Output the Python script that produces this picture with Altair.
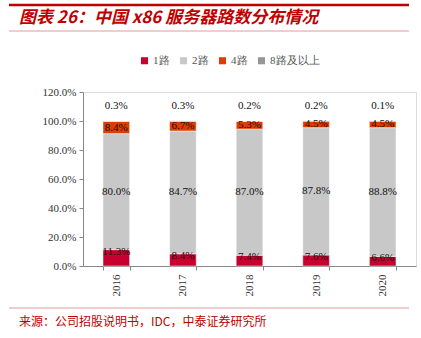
import altair as alt
import pandas as pd

years = ["2016", "2017", "2018", "2019", "2020"]
series = ["1路", "2路", "4路", "8路及以上"]
v1 = [11.3, 8.4, 7.4, 7.6, 6.6]
v2 = [80.0, 84.7, 87.0, 87.8, 88.8]
v4 = [8.4, 6.7, 5.3, 4.5, 4.5]
v8 = [0.3, 0.3, 0.2, 0.2, 0.1]
colors = ["#C8002F", "#C8C8C8", "#DE3C00", "#969696"]
title_text = "图表 26：中国 x86 服务器路数分布情况"
source_text = "来源：公司招股说明书，IDC，中泰证券研究所"

rows = []
for i, y in enumerate(years):
    for s, vals in zip(series, [v1, v2, v4, v8]):
        rows.append({"year": y, "series": s, "value": vals[i], "order": series.index(s)})
df = pd.DataFrame(rows)
df["label"] = df["value"].map(lambda v: f"{v:.1f}%")

SERIF = "Liberation Serif"

base = alt.Chart(df).transform_stack(
    stack="value", groupby=["year"], as_=["y0", "y1"], sort=[alt.SortField("order")]
).transform_calculate(
    mid="(datum.y0 + datum.y1) / 2"
)

yscale = alt.Scale(domain=[0, 120])
xscale = alt.Scale(paddingInner=0.6, paddingOuter=0.3)
xaxis = alt.Axis(labelAngle=-90, labelFont=SERIF, labelFontSize=11,
                 labelColor="#333333", domainColor="#888888", tickColor="#888888",
                 ticks=True, tickBand="extent", tickSize=4, labelPadding=4,
                 title=None)
yaxis = alt.Axis(values=[0, 20, 40, 60, 80, 100, 120],
                 labelExpr="format(datum.value, '.1f') + '%'",
                 labelOverlap=False, labelFlush=False,
                 grid=False, labelFont=SERIF, labelFontSize=11,
                 labelColor="#333333", domainColor="#888888",
                 tickColor="#888888", tickSize=4, labelPadding=3, title=None)

xenc = alt.X("year:N", sort=years, title=None, scale=xscale, axis=xaxis)

def yenc(field):
    return alt.Y(field, title=None, scale=yscale, axis=yaxis)

bars = base.mark_bar(stroke="white", strokeWidth=0.5).encode(
    x=xenc,
    y=yenc("y0:Q"),
    y2="y1:Q",
    color=alt.Color("series:N", sort=series,
                    scale=alt.Scale(domain=series, range=colors),
                    legend=alt.Legend(title=None, orient="none", direction="horizontal",
                                      legendX=56, legendY=-37, symbolType="square",
                                      symbolSize=50, symbolStrokeWidth=0,
                                      labelFont=SERIF, labelFontSize=11,
                                      labelColor="#555555", columnPadding=8,
                                      labelOffset=3)),
    order=alt.Order("order:Q"),
)

txt_kw = dict(font=SERIF, fontSize=11, color="#111111")

lab1 = base.transform_filter(alt.datum.series == "1路").mark_text(
    baseline="middle", dy=2, **txt_kw).encode(
    x=xenc, y=yenc("y1:Q"), text="label:N")
lab2 = base.transform_filter(
    (alt.datum.series == "2路") | (alt.datum.series == "4路")).mark_text(
    baseline="middle", **txt_kw).encode(
    x=xenc, y=yenc("mid:Q"), text="label:N")
lab8 = base.transform_filter(alt.datum.series == "8路及以上").mark_text(
    baseline="middle", dy=-15, **txt_kw).encode(
    x=xenc, y=yenc("y1:Q"), text="label:N")

deco = alt.Chart(pd.DataFrame({"t": [title_text]}))
top_rule = deco.mark_rule(color="#C00000", strokeWidth=2.5).encode(
    x=alt.value(-74), x2=alt.value(326), y=alt.value(-87))
title_line = deco.mark_rule(color="#E08080", strokeWidth=0.8).encode(
    x=alt.value(-74), x2=alt.value(326), y=alt.value(-61))
title = deco.mark_text(align="left", baseline="middle", font="Noto Sans CJK SC",
                       fontSize=17, fontStyle="italic", fontWeight="bold",
                       color="#C00000").encode(
    x=alt.value(-64), y=alt.value(-74), text="t:N")
foot_rule = deco.mark_rule(color="#E08080", strokeWidth=0.8).encode(
    x=alt.value(-74), x2=alt.value(326), y=alt.value(216))
source = alt.Chart(pd.DataFrame({"t": [source_text]})).mark_text(
    align="left", baseline="middle", font="Noto Sans CJK SC", fontSize=12,
    color="#C00000").encode(x=alt.value(-64), y=alt.value(230), text="t:N")

chart = alt.layer(bars, lab1, lab2, lab8, top_rule, title_line, title, foot_rule, source).properties(
    width=333, height=174,
    autosize=alt.AutoSizeParams(type="none"),
    padding={"left": 83, "top": 92, "right": 5, "bottom": 72},
).configure_view(stroke=None).configure(background="white")

chart.save("out.html", embed_options={"renderer": "svg", "actions": False})
